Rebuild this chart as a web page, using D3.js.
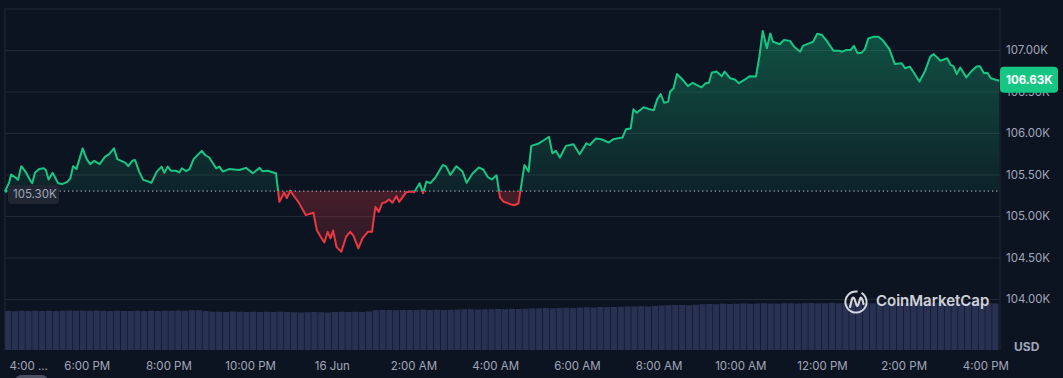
<!DOCTYPE html>
<html>
<head>
<meta charset="utf-8">
<script src="https://cdn.jsdelivr.net/npm/d3@7"></script>
<style>
  html, body { margin: 0; padding: 0; background: #0d1421; }
  svg { display: block; font-family: Inter, "Noto Sans", sans-serif; }
</style>
</head>
<body>
<div id="chart"></div>
<script>
// price series, minutes after 4:00 PM (15 Jun)
const minutes = [0,6,9,16,19,24,30,38,40,44,
  50,57,60,64,70,78,84,92,96,100,
  105,114,120,125,131,139,147,153,160,165,
  173,177,181,187,191,197,203,209,215,223,
  230,234,239,244,251,256,260,266,271,277,
  283,289,294,300,310,315,320,329,344,354,
  364,374,378,386,394,398,403,410,414,419,
  425,432,437,442,447,453,458,464,469,474,
  478,482,487,494,501,507,512,519,525,533,
  539,544,549,554,559,564,569,575,579,589,
  597,601,609,614,619,625,633,643,648,654,
  663,672,678,687,696,703,709,715,722,727,
  732,743,748,754,757,763,769,773,783,788,
  799,804,809,815,824,830,835,844,854,859,
  868,876,887,893,907,912,919,923,928,938,
  947,953,958,963,968,974,977,982,987,995,
  1003,1010,1023,1029,1034,1038,1045,1053,1057,1065,
  1072,1078,1087,1094,1103,1108,1113,1119,1124,1128,
  1138,1144,1153,1159,1168,1172,1181,1187,1193,1200,
  1207,1217,1225,1230,1236,1242,1247,1252,1258,1263,
  1268,1276,1283,1290,1299,1307,1317,1322,1329,1335,
  1343,1351,1359,1364,1374,1384,1389,1393,1398,1403,
  1412,1419,1427,1432,1438,1443,1448,1460];

const prices = [105300,105400,105500,105460,105435,105600,105535,105415,105395,105520,
  105565,105575,105555,105440,105520,105395,105385,105415,105455,105600,
  105565,105815,105685,105625,105665,105625,105715,105745,105815,105685,
  105655,105640,105600,105665,105675,105535,105435,105420,105400,105535,
  105595,105520,105595,105545,105545,105525,105575,105540,105565,105685,
  105735,105785,105735,105705,105575,105595,105535,105565,105555,105580,
  105515,105580,105540,105545,105525,105515,105170,105280,105215,105305,
  105235,105155,105080,105010,105025,105040,104830,104745,104680,104810,
  104730,104825,104625,104570,104750,104810,104760,104610,104730,104810,
  104810,105110,105050,105155,105165,105200,105160,105240,105170,105285,
  105295,105285,105395,105275,105415,105395,105475,105615,105595,105495,
  105600,105535,105400,105515,105585,105555,105470,105440,105490,105225,
  105175,105140,105130,105150,105300,105615,105535,105845,105870,105895,
  105955,105755,105785,105705,105845,105855,105865,105745,105875,105855,
  105935,105925,105885,105925,105945,106045,106055,106285,106245,106310,
  106285,106275,106405,106470,106365,106375,106500,106540,106710,106645,
  106565,106605,106550,106600,106605,106725,106740,106685,106740,106660,
  106645,106600,106645,106685,106680,106920,107230,107020,107200,107100,
  107070,107120,107110,107040,106980,107050,107080,107100,107195,107180,
  107110,106990,106990,106980,107000,107000,107050,106965,106965,107010,
  107140,107160,107160,107110,107010,106830,106840,106780,106800,106725,
  106620,106740,106920,106950,106870,106900,106820,106805,106710,106790,
  106670,106740,106800,106805,106720,106725,106660,106630];

// volume (billion USD), one bar every 10 minutes
const volumes = [
  15.6,15.5,15.7,15.6,15.7,15.6, 15.7,15.6,15.7,15.8,15.7,15.7,
  15.7,15.8,15.7,15.6,15.7,15.6, 15.6,15.7,15.6,15.7,15.6,15.7,
  15.7,15.8,15.7,15.9,15.9,15.6, 15.3,15.3,15.2,15.4,15.3,15.2,
  15.3,15.2,15.3,15.2,15.3,15.2, 15.1,15.0,15.1,15.2,15.1,15.0,
  15.2,15.3,15.2,15.3,15.2,15.4, 15.9,16.0,16.0,15.9,16.0,16.0,
  16.0,16.1,16.0,16.1,16.0,16.1, 16.2,16.3,16.3,16.2,16.3,16.3,
  16.4,16.3,16.5,16.4,16.5,16.6, 16.7,16.8,16.7,16.8,16.9,16.8,
  17.0,17.1,17.0,17.2,17.1,17.2, 17.3,17.4,17.4,17.5,17.4,17.6,
  17.8,17.9,18.0,18.0,17.9,18.1, 18.3,18.4,18.3,18.5,18.4,18.5,
  18.6,18.5,18.6,18.7,18.6,18.6, 18.7,18.7,18.6,18.7,18.8,18.7,
  18.7,18.8,18.7,18.7,18.8,18.7, 18.8,18.7,18.8,18.7,18.8,18.8,
  18.8,18.9,18.8,18.8,18.9,18.8, 18.8,18.9,18.8,18.8,18.9,18.8,
  18.8,18.6];

const openPrice = 105300;
const lastPrice = 106630;
const yTicks = [104000, 104500, 105000, 105500, 106000, 106500, 107000];
const yGrid = [104000, 104500, 105000, 105500, 106000, 106500, 107000, 107500];
const xTicks = [0,120,240,360,480,600,720,840,960,1080,1200,1320,1440];
const xLabels = ["4:00 ...","6:00 PM","8:00 PM","10:00 PM","16 Jun","2:00 AM","4:00 AM",
  "6:00 AM","8:00 AM","10:00 AM","12:00 PM","2:00 PM","4:00 PM"];

const w = 1063, h = 378;
const plotLeft = 5, plotRight = 1000, plotTop = 8, plotBottom = 350;
const green = "#16c784", red = "#ea3943";
const txt = "#a1a7bb";

const data = minutes.map((m, i) => ({m: m, p: prices[i]}));

const svg = d3.select("#chart").append("svg")
  .attr("width", w).attr("height", h);

svg.append("rect").attr("width", w).attr("height", h).attr("fill", "#0d1421");

const x = d3.scaleLinear().domain([0, 1460]).range([plotLeft, plotRight - 1]);
const y = d3.scaleLinear().domain([104000, 107000]).range([299, 50]);
const yVol = d3.scaleLinear().domain([0, 20]).range([plotBottom, 300]);
const baseY = y(openPrice);

const defs = svg.append("defs");
defs.append("clipPath").attr("id", "above").append("rect")
  .attr("x", 0).attr("y", 0).attr("width", w).attr("height", baseY);
defs.append("clipPath").attr("id", "below").append("rect")
  .attr("x", 0).attr("y", baseY).attr("width", w).attr("height", h - baseY);

const gGreen = defs.append("linearGradient").attr("id", "gGreen")
  .attr("gradientUnits", "userSpaceOnUse")
  .attr("x1", 0).attr("x2", 0).attr("y1", y(107230)).attr("y2", baseY);
gGreen.append("stop").attr("offset", 0).attr("stop-color", green).attr("stop-opacity", 0.34);
gGreen.append("stop").attr("offset", 1).attr("stop-color", green).attr("stop-opacity", 0.08);

const gRed = defs.append("linearGradient").attr("id", "gRed")
  .attr("gradientUnits", "userSpaceOnUse")
  .attr("x1", 0).attr("x2", 0).attr("y1", baseY).attr("y2", y(104570));
gRed.append("stop").attr("offset", 0).attr("stop-color", red).attr("stop-opacity", 0.26);
gRed.append("stop").attr("offset", 1).attr("stop-color", red).attr("stop-opacity", 0.14);

// volume bars
const step = x(10) - x(0);
svg.append("g").selectAll("rect")
  .data(volumes)
  .enter()
  .append("rect")
  .attr("x", (d, i) => x(i * 10))
  .attr("y", d => yVol(d))
  .attr("width", step - 0.6)
  .attr("height", d => plotBottom - yVol(d))
  .attr("fill", "#283152");

// grid lines
svg.append("g")
  .attr("transform", `translate(${plotRight},0)`)
  .call(d3.axisLeft(y).tickValues(yGrid).tickSize(plotRight - plotLeft).tickFormat(""))
  .call(g => g.select(".domain").remove())
  .call(g => g.selectAll("line").attr("stroke", "#232836").attr("stroke-width", 1));

// frame
svg.append("line").attr("x1", plotLeft).attr("x2", plotLeft).attr("y1", plotTop).attr("y2", plotBottom)
  .attr("stroke", "#232836");
svg.append("line").attr("x1", plotRight).attr("x2", plotRight).attr("y1", plotTop).attr("y2", plotBottom)
  .attr("stroke", "#232836");

// areas + line, split at the opening price
const area = d3.area().x(d => x(d.m)).y0(baseY).y1(d => y(d.p));
const line = d3.line().x(d => x(d.m)).y(d => y(d.p));

svg.append("path").datum(data).attr("d", area)
  .attr("fill", "url(#gGreen)").attr("clip-path", "url(#above)");
svg.append("path").datum(data).attr("d", area)
  .attr("fill", "url(#gRed)").attr("clip-path", "url(#below)");

// dotted open line
svg.append("line")
  .attr("x1", plotLeft).attr("x2", plotRight).attr("y1", baseY).attr("y2", baseY)
  .attr("stroke", "#c9ccd6").attr("stroke-width", 1)
  .attr("stroke-dasharray", "1.2,3");

svg.append("path").datum(data).attr("d", line)
  .attr("fill", "none").attr("stroke", green).attr("stroke-width", 2)
  .attr("stroke-linejoin", "round").attr("clip-path", "url(#above)");
svg.append("path").datum(data).attr("d", line)
  .attr("fill", "none").attr("stroke", red).attr("stroke-width", 2)
  .attr("stroke-linejoin", "round").attr("clip-path", "url(#below)");

// start point
svg.append("circle").attr("cx", x(minutes[0]) + 1).attr("cy", baseY).attr("r", 1.6)
  .attr("fill", green);

// open price label
svg.append("rect").attr("x", 8).attr("y", baseY - 6).attr("width", 51).attr("height", 19)
  .attr("rx", 4).attr("fill", "#222734").attr("fill-opacity", 0.95);
svg.append("text").attr("x", 13).attr("y", baseY + 3.5)
  .attr("dominant-baseline", "middle")
  .attr("fill", txt).attr("font-size", 11.5)
  .text(d3.format(".2f")(openPrice / 1000) + "K");

// y axis
svg.append("g")
  .attr("transform", `translate(${plotRight + 6},0)`)
  .call(d3.axisRight(y).tickValues(yTicks).tickSize(0)
    .tickFormat(d => d3.format(".2f")(d / 1000) + "K"))
  .call(g => g.select(".domain").remove())
  .call(g => g.selectAll("text").attr("fill", txt).attr("font-size", 11.5)
    .attr("font-family", "Inter, sans-serif").attr("x", 0).attr("text-anchor", "start"));

// current price badge
const ly = y(lastPrice);
svg.append("rect").attr("x", plotRight).attr("y", ly - 14).attr("width", 58).attr("height", 26)
  .attr("rx", 4).attr("fill", green);
svg.append("text").attr("x", plotRight + 6).attr("y", ly)
  .attr("dominant-baseline", "middle")
  .attr("fill", "#ffffff").attr("font-size", 11.5).attr("font-weight", 700)
  .text(d3.format(".2f")(lastPrice / 1000) + "K");

svg.append("text").attr("x", 1014).attr("y", 348)
  .attr("dominant-baseline", "middle")
  .attr("fill", txt).attr("font-size", 12).attr("font-weight", 700)
  .text("USD");

// x axis
svg.append("g")
  .attr("transform", `translate(0,${plotBottom})`)
  .call(d3.axisBottom(x).tickValues(xTicks).tickSize(0)
    .tickFormat((d, i) => xLabels[i]))
  .call(g => g.select(".domain").remove())
  .call(g => g.selectAll("text").attr("fill", txt).attr("font-size", 11.5)
    .attr("font-family", "Inter, sans-serif").attr("y", 20).attr("dy", "0"))
  .call(g => g.selectAll(".tick").filter((d, i) => i === 0).select("text")
    .attr("text-anchor", "start").attr("x", 4));

// bottom-left scroll pill (cut off by the window)
svg.append("rect").attr("x", 15).attr("y", 375).attr("width", 33).attr("height", 12)
  .attr("rx", 6).attr("fill", "#4b5163");

// watermark
const wm = svg.append("g").attr("transform", "translate(856,302)").attr("opacity", 0.9);
wm.append("path")
  .attr("d", d3.arc()({innerRadius: 9.6, outerRadius: 11.6, startAngle: 0.55, endAngle: 2 * Math.PI + 0.15}))
  .attr("fill", "#e8eaf0");
wm.append("path")
  .attr("d", "M-6,5 L-4,-3 Q-3,-6 -1.5,-3 L0.5,3 Q1.5,5 2.5,2 L4,-3 Q5,-6 6.5,-2 L7.5,2")
  .attr("fill", "none").attr("stroke", "#e8eaf0").attr("stroke-width", 2.2)
  .attr("stroke-linecap", "round").attr("stroke-linejoin", "round");
svg.append("text").attr("x", 876).attr("y", 302)
  .attr("dominant-baseline", "middle")
  .attr("fill", "#e8eaf0").attr("fill-opacity", 0.9)
  .attr("font-size", 15).attr("font-weight", 600)
  .text("CoinMarketCap");
</script>
</body>
</html>
